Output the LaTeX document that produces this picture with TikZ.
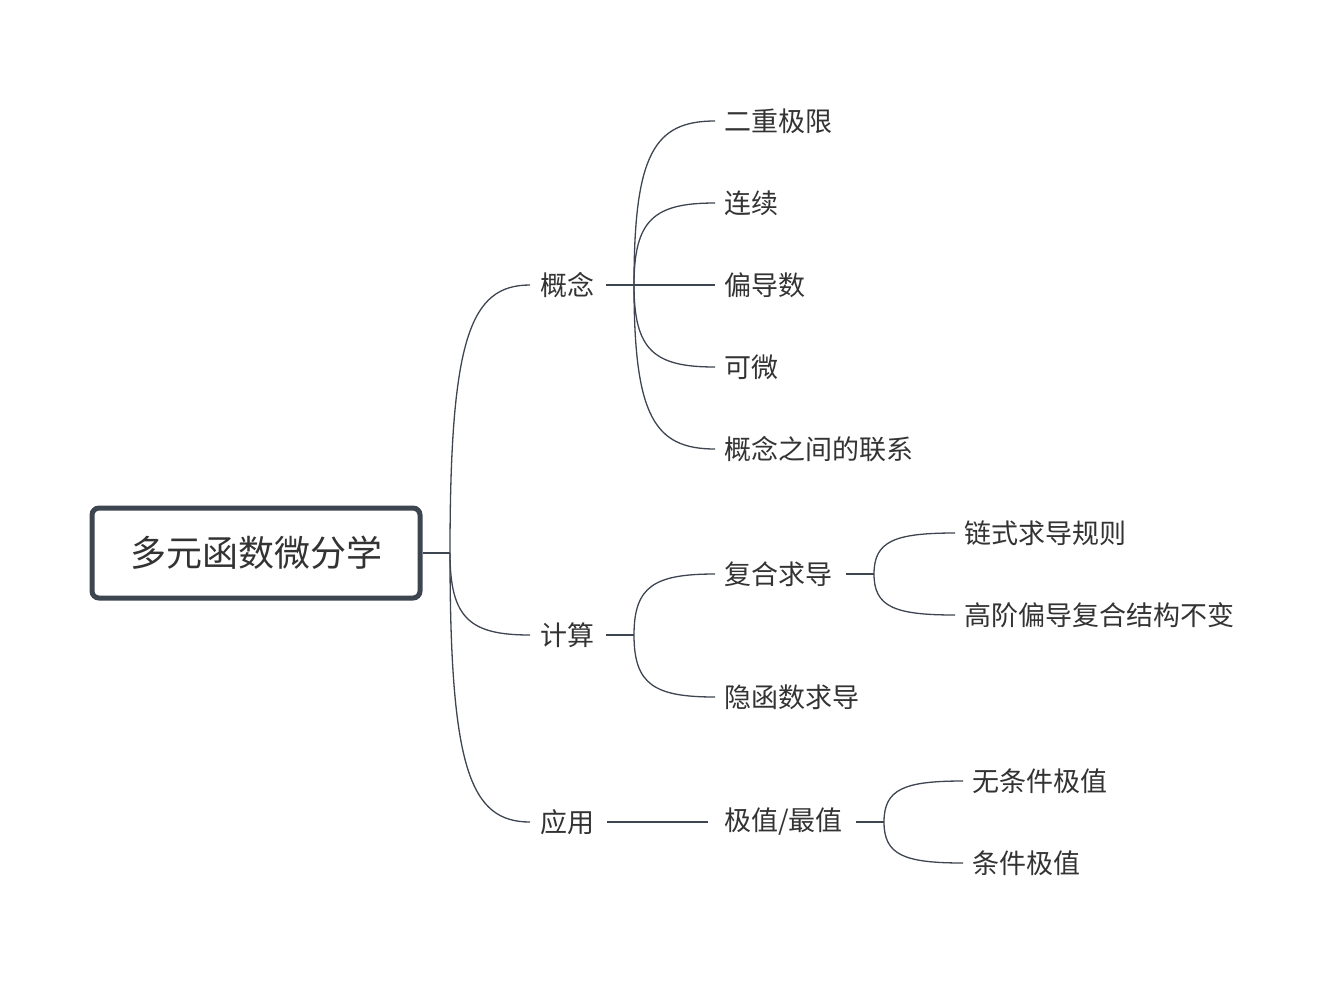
\documentclass[tikz,border=0pt]{standalone}
\usepackage{fontspec}
\usetikzlibrary{calc}
\newfontfamily\cjk{Noto Sans CJK SC}
\definecolor{ln}{HTML}{3D4550}
\definecolor{tx}{HTML}{333333}
\begin{document}
\begin{tikzpicture}[x=1pt,y=-1pt,
  lbl/.style={anchor=west,inner sep=0pt,text=tx,font=\cjk\fontsize{27}{27}\selectfont},
  con/.style={draw=ln,line width=1.3pt},
  br/.style={con,to path={.. controls ($(\tikztostart)!0.8!(\tikztostart|-\tikztotarget)$) and ($(\tikztostart|-\tikztotarget)!0.25!(\tikztotarget)$) .. (\tikztotarget)}}]
\useasboundingbox (0,0) rectangle (1343,983);
\node[draw=ln,line width=5pt,rounded corners=7pt,minimum width=328pt,minimum height=90pt,text=tx,font=\cjk\fontsize{36}{36}\selectfont] (root) at (256,553) {多元函数微分学};
\coordinate (r0) at (450,553);
\draw[con] (root.east) -- (r0);
% level 1
\node[lbl] (gn) at (540,285) {概念};
\node[lbl] (js) at (540,635) {计算};
\node[lbl] (yy) at (540,822) {应用};
\coordinate (gnE) at (530,285);\coordinate (jsE) at (530,635);\coordinate (yyE) at (530,822);
\draw[br] (r0) to (gnE);\draw[br] (r0) to (jsE);\draw[br] (r0) to (yyE);
% 概念 children
\coordinate (g0) at (606,285);\coordinate (g1) at (634,285);
\draw[con] (g0) -- (g1);
\foreach \n/\y/\t in {a/121/二重极限,b/203/连续,c/285/偏导数,d/367/可微,e/449/概念之间的联系}{
  \node[lbl] (g\n) at (724,\y) {\t};
  \coordinate (ge\n) at (715,\y);
  \draw[br] (g1) to (ge\n);
}
% 计算 children
\coordinate (j0) at (606,635);\coordinate (j1) at (634,635);
\draw[con] (j0) -- (j1);
\node[lbl] (fh) at (724,574) {复合求导};
\node[lbl] (yh) at (724,697) {隐函数求导};
\coordinate (fhE) at (715,574);\coordinate (yhE) at (715,697);
\draw[br] (j1) to (fhE);\draw[br] (j1) to (yhE);
\coordinate (f0) at (846,574);\coordinate (f1) at (874,574);
\draw[con] (f0) -- (f1);
\node[lbl] (ls) at (964,533) {链式求导规则};
\node[lbl] (gj) at (964,615) {高阶偏导复合结构不变};
\coordinate (lsE) at (955,533);\coordinate (gjE) at (955,615);
\draw[br] (f1) to (lsE);\draw[br] (f1) to (gjE);
% 应用
\node[lbl] (jz) at (724,822) {极值/最值};
\coordinate (y0) at (607,822);\coordinate (y1) at (708,822);
\draw[con] (y0) -- (y1);
\coordinate (z0) at (856,822);\coordinate (z1) at (884,822);
\draw[con] (z0) -- (z1);
\node[lbl] (wt) at (972,781) {无条件极值};
\node[lbl] (tj) at (972,863) {条件极值};
\coordinate (wtE) at (963,781);\coordinate (tjE) at (963,863);
\draw[br] (z1) to (wtE);\draw[br] (z1) to (tjE);
\end{tikzpicture}
\end{document}
